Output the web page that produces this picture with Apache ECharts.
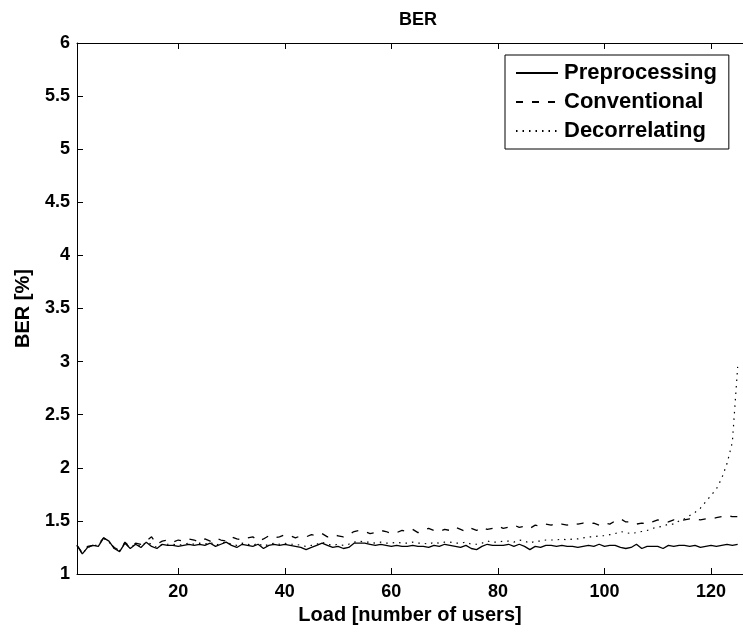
<!DOCTYPE html>
<html>
<head>
<meta charset="utf-8">
<script src="https://cdn.jsdelivr.net/npm/echarts@6/dist/echarts.min.js"></script>
<style>
html,body{margin:0;padding:0;background:#fff;}
#chart{width:743px;height:632px;}
</style>
</head>
<body>
<div id="chart"></div>
<script>
// Load (number of users)
const loads = [];
for (let i = 1; i <= 125; i++) loads.push(i);

const preprocessing = [
1.27,1.19,1.25,1.27,1.26,1.34,1.31,1.24,1.21,1.29,
1.24,1.28,1.25,1.30,1.26,1.24,1.28,1.27,1.27,1.26,
1.27,1.28,1.27,1.28,1.27,1.29,1.26,1.28,1.30,1.27,
1.25,1.28,1.27,1.26,1.28,1.24,1.27,1.28,1.27,1.28,
1.27,1.26,1.25,1.23,1.25,1.27,1.29,1.27,1.25,1.26,
1.24,1.25,1.29,1.29,1.29,1.28,1.27,1.28,1.27,1.26,
1.27,1.26,1.26,1.27,1.26,1.26,1.25,1.27,1.26,1.28,
1.27,1.26,1.25,1.27,1.24,1.23,1.26,1.28,1.27,1.27,
1.27,1.28,1.26,1.28,1.26,1.23,1.26,1.25,1.27,1.27,
1.26,1.27,1.26,1.26,1.25,1.26,1.27,1.26,1.28,1.26,
1.27,1.27,1.25,1.24,1.25,1.28,1.24,1.26,1.26,1.26,
1.24,1.27,1.26,1.27,1.27,1.26,1.27,1.25,1.26,1.27,
1.26,1.27,1.28,1.27,1.28
];

const conventional = [
1.27,1.20,1.26,1.27,1.28,1.34,1.30,1.25,1.22,1.30,
1.25,1.29,1.28,1.31,1.35,1.28,1.31,1.32,1.30,1.32,
1.31,1.33,1.32,1.30,1.33,1.31,1.34,1.32,1.31,1.35,
1.33,1.32,1.34,1.35,1.31,1.33,1.36,1.34,1.35,1.37,
1.36,1.34,1.36,1.35,1.37,1.36,1.38,1.35,1.37,1.36,
1.35,1.37,1.40,1.41,1.40,1.38,1.39,1.41,1.40,1.38,
1.39,1.41,1.40,1.42,1.39,1.41,1.43,1.41,1.40,1.42,
1.41,1.44,1.42,1.40,1.43,1.41,1.44,1.42,1.43,1.45,
1.43,1.44,1.46,1.44,1.45,1.43,1.46,1.45,1.47,1.46,
1.48,1.47,1.46,1.48,1.47,1.48,1.47,1.48,1.46,1.48,
1.47,1.50,1.52,1.49,1.49,1.47,1.48,1.47,1.49,1.51,
1.50,1.49,1.51,1.50,1.51,1.52,1.52,1.51,1.52,1.52,
1.53,1.54,1.55,1.54,1.54
];

const decorrelating = [
1.27,1.19,1.25,1.27,1.27,1.34,1.30,1.24,1.22,1.29,
1.25,1.28,1.26,1.30,1.28,1.25,1.28,1.28,1.28,1.27,
1.28,1.29,1.28,1.29,1.28,1.30,1.27,1.29,1.30,1.28,
1.27,1.29,1.28,1.27,1.29,1.26,1.28,1.29,1.28,1.29,
1.28,1.28,1.27,1.26,1.27,1.28,1.30,1.28,1.27,1.28,
1.27,1.28,1.30,1.31,1.30,1.30,1.29,1.30,1.29,1.29,
1.30,1.29,1.29,1.30,1.29,1.29,1.28,1.30,1.29,1.30,
1.30,1.29,1.29,1.30,1.28,1.28,1.29,1.31,1.30,1.30,
1.31,1.31,1.30,1.32,1.31,1.29,1.31,1.31,1.32,1.32,
1.32,1.33,1.32,1.33,1.33,1.34,1.35,1.35,1.36,1.36,
1.37,1.38,1.40,1.39,1.38,1.39,1.40,1.41,1.43,1.44,
1.45,1.47,1.47,1.50,1.52,1.55,1.58,1.62,1.68,1.74,
1.80,1.90,2.04,2.24,2.95
];

const xTicks = [20, 40, 60, 80, 100, 120];
const seriesNames = ['Preprocessing', 'Conventional', 'Decorrelating'];

const FONT = '"Liberation Sans", Arial, Helvetica, sans-serif';
const chart = echarts.init(document.getElementById('chart'), null, {renderer: 'canvas'});

function pairs(ys) { return ys.map((y, i) => [loads[i], y]); }

const axisLine = {show: true, lineStyle: {color: '#000', width: 1}};
const tick = {show: true, inside: true, length: 6, lineStyle: {color: '#000', width: 1}};

chart.setOption({
  animation: false,
  backgroundColor: '#fff',
  title: {
    text: 'BER',
    left: 413, top: 6, textAlign: 'center',
    textStyle: {fontFamily: FONT, fontWeight: 'bold', fontSize: 18, color: '#000'}
  },
  grid: {left: 77, top: 43, width: 669, height: 531, containLabel: false},
  legend: {
    orient: 'vertical',
    left: 505, top: 55,
    data: seriesNames,
    backgroundColor: '#fff',
    borderColor: '#000', borderWidth: 1, borderRadius: 0,
    padding: [7, 12, 7, 10],
    itemWidth: 42, itemHeight: 21, itemGap: 7,
    itemStyle: {color: 'rgba(0,0,0,0)', borderWidth: 0, opacity: 0},
    textStyle: {fontFamily: FONT, fontWeight: 'bold', fontSize: 22, color: '#000', padding: [0, 0, 0, 1]}
  },
  xAxis: [{
    type: 'value', min: 1, max: 126, position: 'bottom',
    axisLine: axisLine,
    axisTick: Object.assign({customValues: xTicks}, tick),
    axisLabel: {customValues: xTicks, fontFamily: FONT, fontWeight: 'bold', fontSize: 18, color: '#000', margin: 9},
    splitLine: {show: false},
    name: 'Load [number of users]', nameLocation: 'middle', nameGap: 31,
    nameTextStyle: {fontFamily: FONT, fontWeight: 'bold', fontSize: 20, color: '#000'}
  }, {
    type: 'value', min: 1, max: 126, position: 'top',
    axisLine: axisLine,
    axisTick: Object.assign({customValues: xTicks}, tick),
    axisLabel: {show: false},
    splitLine: {show: false}
  }],
  yAxis: [{
    type: 'value', min: 1, max: 6, interval: 0.5,
    axisLine: axisLine,
    axisTick: tick,
    axisLabel: {fontFamily: FONT, fontWeight: 'bold', fontSize: 18, color: '#000', margin: 7},
    splitLine: {show: false},
    name: 'BER [%]', nameLocation: 'middle', nameGap: 44, nameRotate: 90,
    nameTextStyle: {fontFamily: FONT, fontWeight: 'bold', fontSize: 20, color: '#000'}
  }],
  series: [{
    name: seriesNames[0], type: 'line', data: pairs(preprocessing),
    symbol: 'none', lineStyle: {color: '#000', width: 1.3, type: 'solid'}, itemStyle: {color: '#000'}
  }, {
    name: seriesNames[1], type: 'line', data: pairs(conventional),
    symbol: 'none', lineStyle: {color: '#000', width: 1.3, type: [7, 9]}, itemStyle: {color: '#000'}
  }, {
    name: seriesNames[2], type: 'line', data: pairs(decorrelating),
    symbol: 'none', lineStyle: {color: '#000', width: 1.2, type: [1.5, 5]}, itemStyle: {color: '#000'}
  }]
});
</script>
</body>
</html>
